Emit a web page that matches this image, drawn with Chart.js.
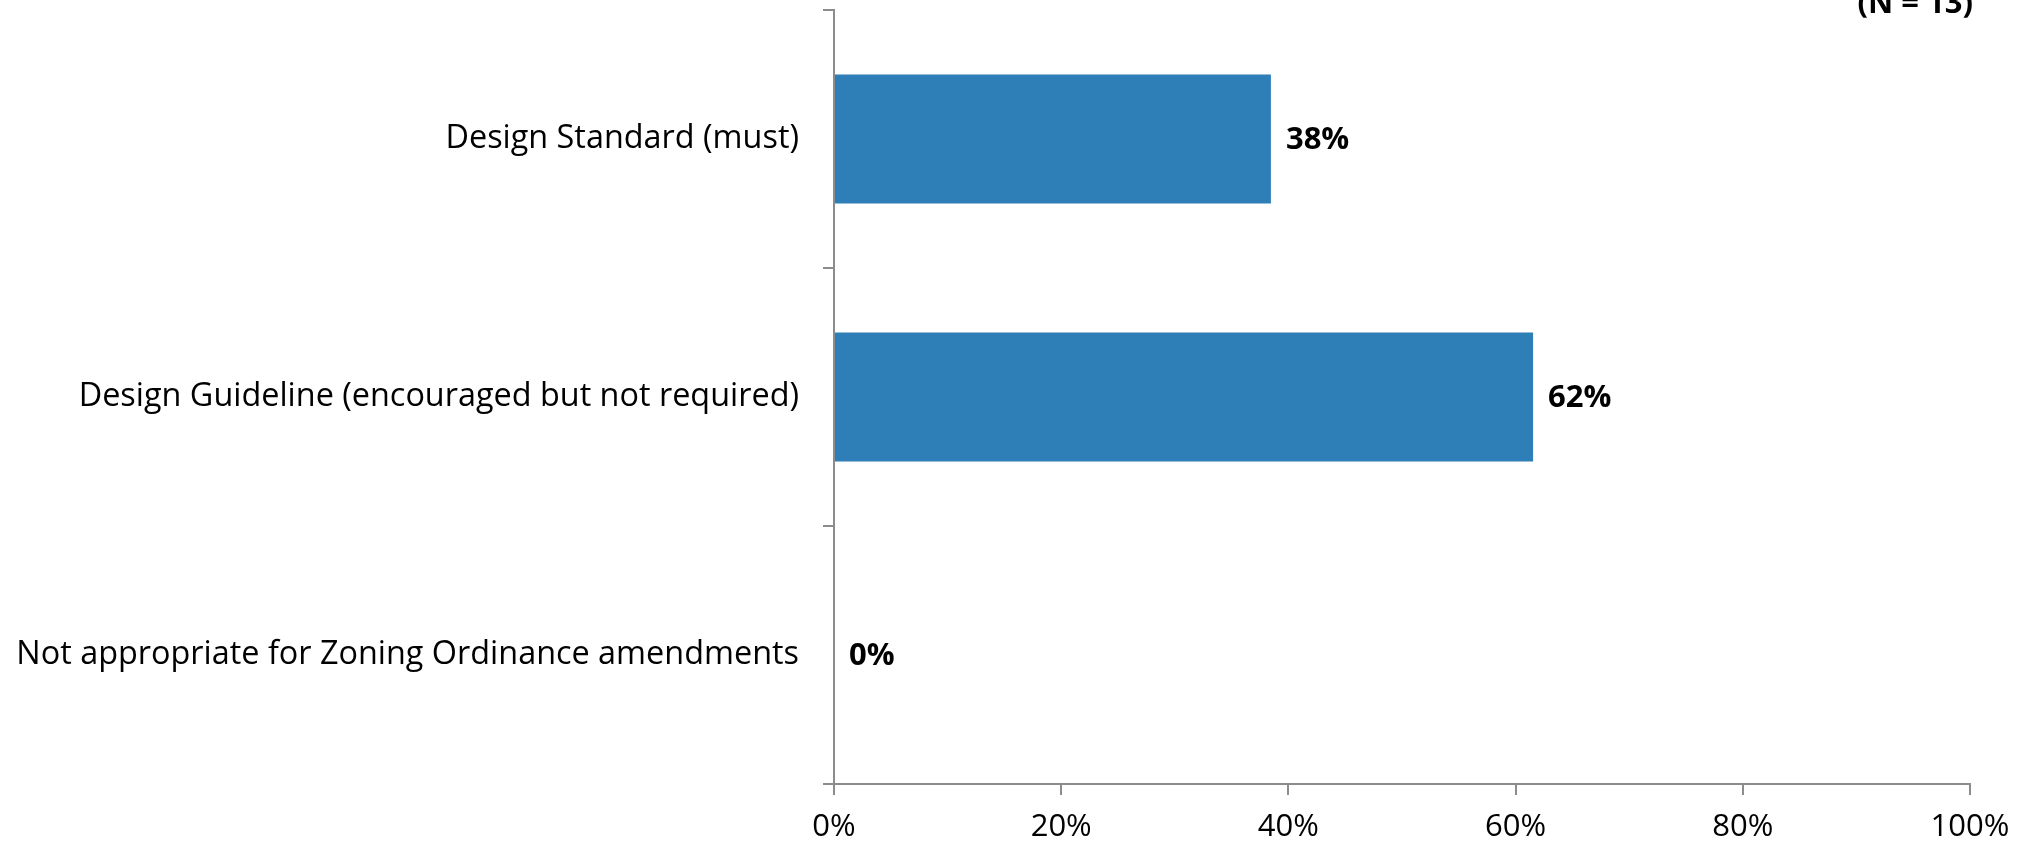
<!DOCTYPE html>
<html>
<head>
<meta charset="utf-8">
<script src="https://cdn.jsdelivr.net/npm/chart.js@4"></script>
<style>
  html, body { margin: 0; padding: 0; background: #fff; overflow: hidden; }
  #wrap { position: relative; width: 2035px; height: 849px; }
  #note { position: absolute; right: 62px; top: -20px; font: bold 31px "Open Sans", sans-serif; color: #000; }
</style>
</head>
<body>
<div id="wrap">
  <canvas id="chart" width="2035" height="849"></canvas>
  <div id="note">(N = 13)</div>
</div>
<script>
const categories = [
  'Design Standard (must)',
  'Design Guideline (encouraged but not required)',
  'Not appropriate for Zoning Ordinance amendments'
];
const shares = [38.46, 61.54, 0];
const valueLabels = ['38%', '62%', '0%'];
const xTicks = ['0%', '20%', '40%', '60%', '80%', '100%'];

const axisGray = '#8c8c8c';
const fontFamily = '"Open Sans", sans-serif';

// draws the bold percentage next to each bar end
const barLabels = {
  id: 'barLabels',
  afterDatasetsDraw(chart) {
    const ctx = chart.ctx;
    const meta = chart.getDatasetMeta(0);
    ctx.save();
    ctx.font = 'bold 31px ' + fontFamily;
    ctx.fillStyle = '#000';
    ctx.textBaseline = 'middle';
    ctx.textAlign = 'left';
    meta.data.forEach((bar, i) => {
      ctx.fillText(valueLabels[i], bar.x + 15, bar.y + 1);
    });
    ctx.restore();
  }
};

new Chart(document.getElementById('chart'), {
  type: 'bar',
  data: {
    labels: categories,
    datasets: [{
      data: shares,
      backgroundColor: '#2e7fb8',
      categoryPercentage: 1,
      barPercentage: 0.5,
    }],
  },
  options: {
    indexAxis: 'y',
    responsive: false,
    animation: false,
    layout: { padding: { top: 10, right: 65, left: 0, bottom: 0 } },
    plugins: { legend: { display: false }, tooltip: { enabled: false } },
    scales: {
      x: {
        min: 0,
        max: 100,
        ticks: {
          stepSize: 20,
          color: '#000',
          font: { family: fontFamily, size: 31 },
          padding: 14,
          callback: (v, i) => xTicks[i],
        },
        grid: { drawOnChartArea: false, tickLength: 11, color: axisGray, lineWidth: 2 },
        border: { color: axisGray, width: 2 },
        afterFit: s => { s.height = 65; },
      },
      y: {
        ticks: {
          color: '#000',
          font: { family: fontFamily, size: 32.4 },
          padding: 24,
        },
        grid: { drawOnChartArea: false, tickLength: 11, color: axisGray, lineWidth: 2, offset: true },
        border: { color: axisGray, width: 2 },
        afterFit: s => { s.width = 834; s.paddingTop = 0; s.paddingBottom = 0; },
      },
    },
  },
  plugins: [barLabels],
});
</script>
</body>
</html>
